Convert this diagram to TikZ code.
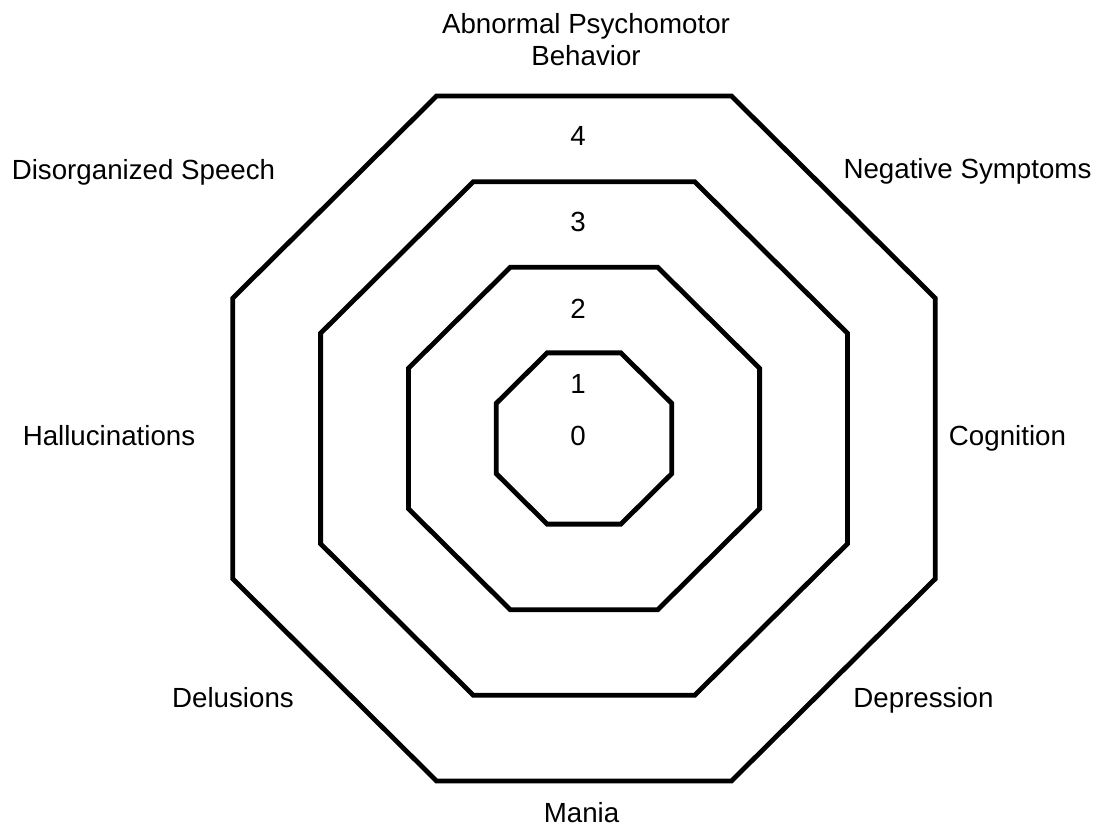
\documentclass[tikz,border=0pt]{standalone}
\usepackage{fontspec}
\setmainfont{Liberation Sans}
\begin{document}
\begin{tikzpicture}[x=1pt, y=-1pt, line join=miter, font=\fontsize{27.7}{32}\selectfont,
		ring/.style={line width=4.8pt}, lab/.style={anchor=base, inner sep=0pt}]
			\useasboundingbox (0,0) rectangle (1097,827);
			\coordinate (c) at (584,438.5);
			% the four rings
			\foreach \k in {1,...,4} {
				\pgfmathsetmacro{\a}{87.8*\k}
				\pgfmathsetmacro{\b}{0.975*\a}
				\draw[ring] ([shift={(-0.42*\a,-\b)}]c) -- ([shift={(0.42*\a,-\b)}]c)
					-- ([shift={(\a,-0.41*\b)}]c) -- ([shift={(\a,0.41*\b)}]c)
					-- ([shift={(0.42*\a,\b)}]c) -- ([shift={(-0.42*\a,\b)}]c)
					-- ([shift={(-\a,0.41*\b)}]c) -- ([shift={(-\a,-0.41*\b)}]c) -- cycle;
			}
			% levels
			\node[lab] (lvl0) at (578,445) {0};
			\node[lab] (lvl1) at (578,393) {1};
			\node[lab] (lvl2) at (578,318) {2};
			\node[lab] (lvl3) at (578,231) {3};
			\node[lab] (lvl4) at (578,145) {4};
			% axes
			\node[lab, align=center] (motor) at (586,65) {Abnormal Psychomotor\\Behavior};
			\node[lab] (negative) at (967.5,178) {Negative Symptoms};
			\node[lab] (cognition) at (1007.5,445) {Cognition};
			\node[lab] (depression) at (923.5,707) {Depression};
			\node[lab] (mania) at (581.5,822) {Mania};
			\node[lab] (delusions) at (233,707) {Delusions};
			\node[lab] (halluc) at (109,445) {Hallucinations};
			\node[lab] (speech) at (143.5,179) {Disorganized Speech};
		\end{tikzpicture}
\end{document}
